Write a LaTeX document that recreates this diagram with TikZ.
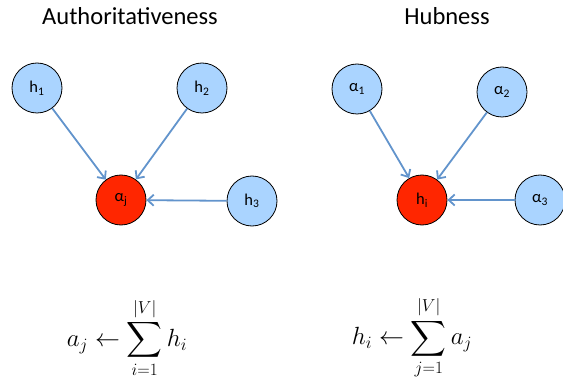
\documentclass[tikz,border=0pt]{standalone}
\usepackage{fontspec}
\setmainfont{Carlito}
\usepackage{amsmath}
\usepackage{tikz}
\usetikzlibrary{arrows.meta}
\definecolor{nodeblue}{RGB}{170,212,255}
\definecolor{nodered}{RGB}{255,38,0}
\definecolor{linkblue}{RGB}{98,148,204}
\begin{document}
\begin{tikzpicture}[
  x=1pt, y=-1pt,
  every node/.style={font=\fontsize{16.5}{19}\selectfont},
  vert/.style={circle, draw, line width=0.8pt, minimum size=50pt, inner sep=0pt},
  hub/.style={vert, fill=nodeblue},
  target/.style={vert, fill=nodered},
  title/.style={anchor=base, font=\fontsize{24.5}{28}\selectfont},
  formula/.style={font=\fontsize{23.5}{28}\selectfont},
  arr/.style={draw=linkblue, line width=1.8pt, -{Straight Barb[length=6pt, width=11pt]}}
]
\useasboundingbox (0,0) rectangle (563,377);
% authoritativeness
\node[title] (authtitle) at (130, 25) {Authoritativeness};
\node[hub]    (h1) at (37, 88)   {h\textsubscript{1}};
\node[hub]    (h2) at (202, 88)  {h\textsubscript{2}};
\node[hub]    (h3) at (252, 201) {h\textsubscript{3}};
\node[target] (aj) at (121, 200) {α\textsubscript{j}};
\draw[arr] (h1) -- (aj);
\draw[arr] (h2) -- (aj);
\draw[arr] (h3) -- (aj);
% hubness
\node[title] (hubtitle) at (447, 25) {Hubness};
\node[hub]    (a1) at (357, 89)  {α\textsubscript{1}};
\node[hub]    (a2) at (502, 92)  {α\textsubscript{2}};
\node[hub]    (a3) at (540, 200) {α\textsubscript{3}};
\node[target] (hi) at (422, 200) {h\textsubscript{i}};
\draw[arr] (a1) -- (hi);
\draw[arr] (a2) -- (hi);
\draw[arr] (a3) -- (hi);
% update rules
\node[formula] (authrule) at (127, 338) {$\displaystyle a_j \leftarrow \sum_{i=1}^{|V|} h_i$};
\node[formula] (hubrule)  at (412, 338) {$\displaystyle h_i \leftarrow \sum_{j=1}^{|V|} a_j$};
\end{tikzpicture}
\end{document}
